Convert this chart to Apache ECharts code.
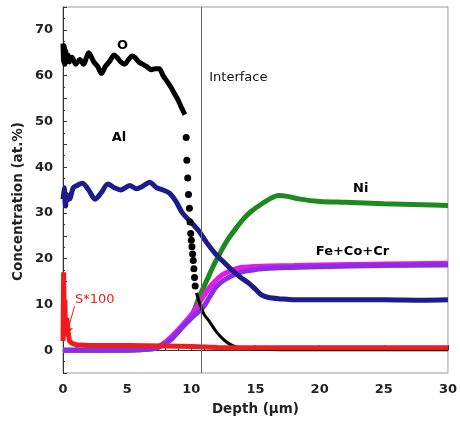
<!DOCTYPE html>
<html><head><meta charset="utf-8">
<script src="https://cdn.jsdelivr.net/npm/echarts@6/dist/echarts.min.js"></script>
<style>html,body{margin:0;padding:0;background:#fff}#c{width:460px;height:421px}</style>
</head><body><div id="c"></div>
<script>
// O (black): dense part, dotted drop, tail
var oDenseX = [0,0.05,0.1,0.15,0.2,0.3,0.4,0.5,0.7,1,1.3,1.6,2,2.4,2.7,3,3.3,3.6,4,4.2,4.5,4.8,5.1,5.4,5.6,5.9,6.2,6.5,6.9,7.2,7.5,7.8,8.1,8.4,8.7,9,9.2,9.5];
var oDenseY = [67,63,66.5,62.5,65.5,63,64.5,63,64,62.5,63.5,62.5,65,63,62,60.5,62,63,64.5,64,63,62.5,63.5,64.3,64,63,62.5,62,61.3,61.5,61.5,60,58.8,57.5,56,54.5,53.2,51.5];
var oDotsX = [9.6,9.65,9.72,9.78,9.85,9.9,9.95,10.0,10.05,10.1,10.15,10.2,10.25,10.3];
var oDotsY = [46.5,41.5,37.6,34,31,28,25.5,24,22.6,21,19.6,17.8,15.9,14];
var oTailX = [10.4,10.7,11,11.4,11.8,12.2,12.6,13,13.5,14,15,17,20,25,30];
var oTailY = [12.5,9.8,7.8,6.3,4.6,3.2,2.1,1.3,0.7,0.4,0.2,0.1,0.1,0.1,0.1];
// Al (navy)
var alX = [0,0.1,0.2,0.3,0.5,0.8,1.1,1.5,2,2.5,3,3.5,4,4.5,5.2,5.7,6.2,6.75,7.3,7.8,8.3,8.8,9.3,9.8,10.6,11.2,11.9,12.5,13.2,13.8,14.5,15,15.5,16,17,18,20,22,25,28,30];
var alY = [33,35.5,31.5,34,33,35.5,36,36.5,35,33,34.5,36.3,35.5,35,36,35.3,35.8,36.7,35.5,35,34.3,32.5,30,28.5,26,23.5,21,19.3,17.4,16,14.6,13.3,12,11.5,11.2,11,11,11,11,10.9,11];
// Ni (green)
var niX = [0,5,7,7.5,8,8.5,9,9.5,10.1,10.6,11.2,11.7,12.2,12.8,13.5,14.1,14.7,15.5,16.2,16.8,17.5,18.5,20,22,25,28,30];
var niY = [0,0,0.3,0.8,1.7,2.8,4.2,6,8,11.5,15.2,18.3,21,24,26.7,28.8,30.4,32,33.2,33.8,33.6,33,32.5,32.3,32,31.8,31.6];
// Fe+Co+Cr (purple) and companion magenta curve
var feX = [0,5,7,7.5,8,8.5,9.3,10,10.9,11.4,11.9,12.5,13.2,13.8,14.5,15.5,17,20,25,30];
var feY = [0,0,0.3,0.7,1.5,2.5,5,7,9.3,11.5,13.7,15.2,16.3,17,17.4,17.8,18,18.2,18.5,18.6];
var mgX = [0,7,8,9,10,10.5,11,11.5,12,12.5,13,13.5,14,15,16,18,20,25,30];
var mgY = [0,0.3,1.8,4.5,7.7,9.8,12,14,15.5,16.6,17.3,17.8,18.1,18.3,18.4,18.5,18.6,18.8,19];
// S*100 (red)
var sX = [0,0.05,0.1,0.15,0.2,0.3,0.4,0.5,0.7,1,2,5,8,10,12,15,20,25,30];
var sY = [2,17,5,11,3,7,4,2,1.5,1.2,1,1,0.9,0.8,0.6,0.5,0.5,0.5,0.5];
var interfaceX = 10.8;
var xTicks = [0,5,10,15,20,25,30];
var yTicks = [0,10,20,30,40,50,60,70];
// text labels [x (left edge), y, text]
var labels = [[4.2,66.5,'O'],[3.8,46.5,'Al'],[22.6,35.2,'Ni'],[19.7,21.6,'Fe+Co+Cr']];

function zip(a,b){return a.map(function(v,i){return [v,b[i]];});}
var FONT = 'DejaVu Sans';
function line(name, x, y, color, w){
  return {name:name,type:'line',data:zip(x,y),showSymbol:false,symbol:'none',smooth:0.3,
    lineStyle:{color:color,width:w},itemStyle:{color:color},animation:false,z:2};
}
var chart = echarts.init(document.getElementById('c'));
chart.setOption({
  animation:false,
  grid:{left:63,right:9,top:7,bottom:47,show:true,borderColor:'#999',borderWidth:1},
  xAxis:{type:'value',min:0,max:30,interval:5,
    axisLine:{show:true,lineStyle:{color:'#333',width:1}},
    axisTick:{inside:true,length:5,lineStyle:{color:'#333'}},
    minorTick:{show:true,splitNumber:5,length:3,lineStyle:{color:'#333'}},
    splitLine:{show:false},
    axisLabel:{color:'#222',fontFamily:FONT,fontWeight:'bold',fontSize:13,margin:10,
      formatter:function(v){return xTicks.indexOf(v)>=0?String(v):'';}},
    name:'Depth (\u00b5m)',nameLocation:'middle',nameGap:29,
    nameTextStyle:{color:'#222',fontFamily:FONT,fontWeight:'bold',fontSize:13.5}},
  yAxis:{type:'value',min:-5,max:75,interval:5,
    axisLine:{show:true,lineStyle:{color:'#333',width:1}},
    axisTick:{inside:true,length:4,lineStyle:{color:'#333'}},
    minorTick:{show:true,splitNumber:2,length:2,lineStyle:{color:'#333'}},
    splitLine:{show:false},
    axisLabel:{color:'#222',fontFamily:FONT,fontWeight:'bold',fontSize:13,margin:10,
      formatter:function(v){return yTicks.indexOf(v)>=0?String(v):'';}}},
  graphic:[{type:'text',rotation:Math.PI/2,x:11,y:281,
    style:{text:'Concentration (at.%)',fill:'#222',font:'bold 13.5px "DejaVu Sans"'}}],
  series:[
    line('Ni',niX,niY,'#1e8a1e',5),
    line('Fe2',mgX,mgY,'#e619e6',5),
    line('Fe+Co+Cr',feX,feY,'#8a2ee6',5),
    line('Al',alX,alY,'#1c1c8c',5),
    line('O',oDenseX,oDenseY,'#000',5),
    {name:'Odots',type:'scatter',data:zip(oDotsX,oDotsY),symbolSize:7,itemStyle:{color:'#000',opacity:1},z:3},
    line('Otail',oTailX,oTailY,'#000',3),
    Object.assign(line('S*100',sX,sY,'#ee1c1c',5),{smooth:false,
      markLine:{silent:true,symbol:['none','arrow'],symbolSize:7,
        lineStyle:{color:'#ee1c1c',width:1,type:'solid'},label:{show:false},
        data:[[{coord:[0.9,9.6]},{coord:[0.3,3.6]}]]}}),
    {name:'iface',type:'line',data:[],markLine:{silent:true,symbol:'none',
      lineStyle:{color:'#666',width:1,type:'solid'},label:{show:false},
      data:[{xAxis:interfaceX}]},z:5},
    {name:'labels',type:'scatter',symbolSize:0,z:6,itemStyle:{opacity:1,color:'#111'},
      data:labels.map(function(l){return {value:[l[0],l[1]],name:l[2]};}),
      label:{show:true,position:'right',distance:0,formatter:'{b}',color:'#000',
        fontFamily:FONT,fontWeight:'bold',fontSize:13}},
    {name:'labels2',type:'scatter',symbolSize:0,z:6,itemStyle:{opacity:1},
      data:[{value:[11.4,59.6],name:'Interface',label:{color:'#111',fontWeight:'normal'}},
            {value:[0.93,11.1],name:'S*100',label:{color:'#e82020',fontWeight:'normal'}}],
      label:{show:true,position:'right',distance:0,formatter:'{b}',fontFamily:FONT,fontSize:13}}
  ]
});
</script></body></html>
